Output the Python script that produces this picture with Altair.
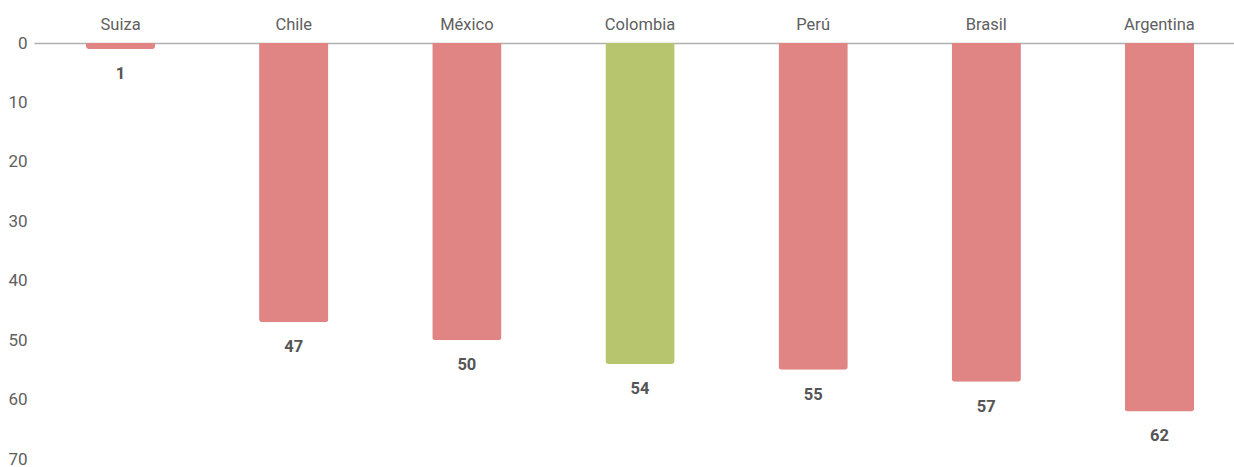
import altair as alt
import pandas as pd

countries = ["Suiza", "Chile", "México", "Colombia", "Perú", "Brasil", "Argentina"]
values = [1, 47, 50, 54, 55, 57, 62]
highlight = ["no", "no", "no", "yes", "no", "no", "no"]

df = pd.DataFrame({"pais": countries, "valor": values, "hl": highlight})

x = alt.X(
    "pais:N",
    sort=countries,
    scale=alt.Scale(range=[0, 1212], paddingInner=0.6, paddingOuter=0.3),
    axis=alt.Axis(
        orient="top", title=None, ticks=False, labelAngle=0,
        labelFont="Roboto", labelFontSize=16.5, labelColor="#606060",
        labelPadding=11, domain=True, domainColor="#B0B0B0", domainWidth=1.5,
    ),
)
y = alt.Y(
    "valor:Q",
    scale=alt.Scale(domain=[0, 70], reverse=True, nice=False),
    axis=alt.Axis(
        title=None, ticks=False, domain=False, grid=False, values=[0, 10, 20, 30, 40, 50, 60, 70],
        labelFont="Roboto", labelFontSize=17, labelColor="#606060", labelPadding=7,
    ),
)

bars = alt.Chart(df).mark_bar(cornerRadiusBottomLeft=3, cornerRadiusBottomRight=3).encode(
    x=x,
    y=y,
    color=alt.Color(
        "hl:N",
        scale=alt.Scale(domain=["no", "yes"], range=["#E08484", "#B6C56E"]),
        legend=None,
    ),
)

labels = alt.Chart(df).mark_text(
    dy=25, baseline="middle", align="center", font="Roboto", fontWeight="bold",
    fontSize=16.5, color="#555555",
).encode(x=alt.X("pais:N", sort=countries), y="valor:Q", text="valor:Q")

chart = alt.layer(bars, labels).properties(
    width=1200, height=416,
    autosize=alt.AutoSizeParams(type="none"),
    padding={"left": 34, "top": 43, "right": 0, "bottom": 8},
).configure_view(stroke=None)

chart.save("out.html", embed_options={"renderer": "svg", "actions": False})
